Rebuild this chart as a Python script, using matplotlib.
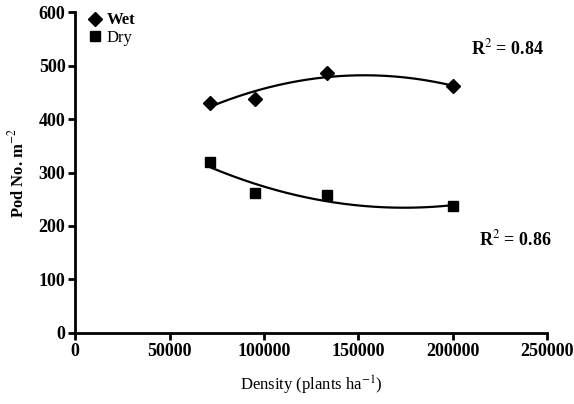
import numpy as np
import matplotlib
matplotlib.use('Agg')
import matplotlib.pyplot as plt

plt.rcParams['font.family'] = ['Liberation Serif', 'DejaVu Serif']
plt.rcParams['mathtext.fontset'] = 'stix'

density = [71429, 95238, 133333, 200000]
wet = [430, 438, 487, 461]
dry = [319, 261, 257, 237]

fig = plt.figure(figsize=(5.74, 4.04), dpi=100)
ax = fig.add_axes([0.131, 0.176, 0.822, 0.794])

# quadratic trend lines
xs = np.linspace(min(density), max(density), 200)
for vals in (wet, dry):
    c = np.polyfit(density, vals, 2)
    ax.plot(xs, np.polyval(c, xs), color='black', lw=1.6)

ax.plot(density, wet, 'D', color='black', ms=7, ls='none', label='Wet')
ax.plot(density, dry, 's', color='black', ms=7.5, ls='none', label='Dry')

ax.set_xlim(0, 250000)
ax.set_ylim(0, 600)
ax.set_xticks([0, 50000, 100000, 150000, 200000, 250000])
ax.set_yticks([0, 100, 200, 300, 400, 500, 600])
ax.spines['top'].set_visible(False)
ax.spines['right'].set_visible(False)
ax.spines['left'].set_linewidth(2)
ax.spines['bottom'].set_linewidth(2)
ax.tick_params(direction='out', length=5, width=2, labelsize=13, pad=2)
for t in ax.get_xticklabels() + ax.get_yticklabels():
    t.set_fontweight('bold')

ax.set_xlabel('Density (plants ha$^{-1}$)', fontsize=12, labelpad=10)
ax.set_ylabel('Pod No. m$^{-2}$', fontsize=12, fontweight='bold', labelpad=8)

leg = ax.legend(loc='upper left', bbox_to_anchor=(0.0, 1.03), frameon=False,
                fontsize=12, handletextpad=0.1, borderaxespad=0.2,
                labelspacing=0.1, handlelength=1.2)
leg.get_texts()[0].set_fontweight('bold')

ax.text(0.838, 0.868, 'R$^{2}$ = 0.84', transform=ax.transAxes, fontsize=13,
        fontweight='bold')
ax.text(0.855, 0.272, 'R$^{2}$ = 0.86', transform=ax.transAxes, fontsize=13,
        fontweight='bold')

fig.savefig('out.png', dpi=100)
